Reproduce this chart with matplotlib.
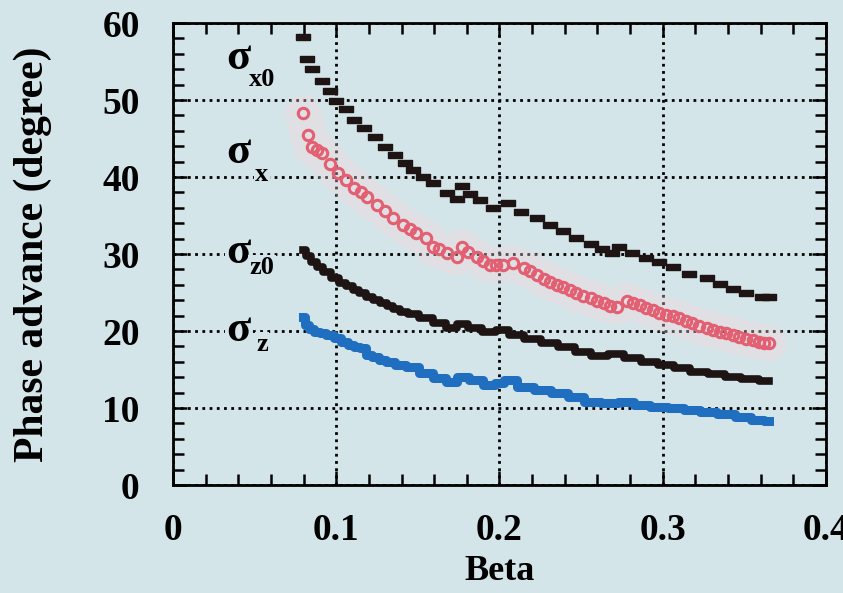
import matplotlib as mpl
mpl.use("Agg")
import matplotlib.pyplot as plt
from matplotlib.ticker import MultipleLocator

plt.rcParams['font.family'] = ['Liberation Serif', 'DejaVu Serif']
plt.rcParams['font.weight'] = 'bold'

# sigma_x0 (black rectangles)
beta_x0 = [0.0795, 0.082, 0.085, 0.091, 0.096, 0.100, 0.106, 0.111, 0.117, 0.124,
           0.130, 0.136, 0.142, 0.147, 0.153, 0.159, 0.168, 0.174, 0.177, 0.182,
           0.188, 0.196, 0.205, 0.213, 0.223, 0.231, 0.239, 0.247, 0.256, 0.263,
           0.269, 0.273, 0.281, 0.290, 0.298, 0.306, 0.316, 0.327, 0.335, 0.343,
           0.351, 0.361, 0.365]
sig_x0 = [58.2, 55.3, 54.0, 52.5, 51.2, 49.9, 48.8, 47.4, 46.4, 45.2,
          43.9, 42.9, 41.8, 40.9, 40.0, 39.2, 37.9, 37.1, 38.8, 37.8,
          37.0, 36.0, 36.6, 35.5, 34.7, 33.8, 33.0, 32.1, 31.3, 30.6,
          30.1, 30.9, 30.1, 29.5, 29.0, 28.3, 27.4, 26.9, 26.1, 25.5,
          24.9, 24.4, 24.4]

# sigma_x (pink open circles)
beta_x = [0.0795, 0.083, 0.085, 0.088, 0.091, 0.096, 0.101, 0.106, 0.111, 0.115,
          0.119, 0.125, 0.130, 0.135, 0.141, 0.145, 0.149, 0.155, 0.159, 0.163,
          0.168, 0.174, 0.177, 0.181, 0.186, 0.190, 0.194, 0.198, 0.202, 0.208,
          0.215, 0.219, 0.223, 0.227, 0.231, 0.235, 0.239, 0.243, 0.247, 0.251,
          0.256, 0.260, 0.264, 0.268, 0.272, 0.278, 0.282, 0.286, 0.290, 0.294,
          0.298, 0.302, 0.306, 0.310, 0.314, 0.318, 0.322, 0.327, 0.331, 0.335,
          0.339, 0.343, 0.347, 0.351, 0.355, 0.359, 0.362, 0.365]
sig_x = [48.3, 45.5, 43.9, 43.5, 43.1, 41.7, 40.5, 39.6, 38.6, 38.0,
         37.4, 36.4, 35.6, 34.7, 33.8, 33.2, 32.7, 32.1, 30.9, 30.6,
         30.1, 29.6, 30.9, 30.2, 29.6, 29.1, 28.6, 28.6, 28.6, 28.8,
         28.2, 27.8, 27.3, 26.8, 26.4, 26.0, 25.7, 25.3, 24.9, 24.6,
         24.3, 23.9, 23.6, 23.3, 23.1, 23.9, 23.6, 23.4, 23.0, 22.7,
         22.4, 22.1, 21.9, 21.7, 21.3, 21.0, 20.7, 20.4, 20.1, 19.9,
         19.7, 19.5, 19.2, 19.0, 18.8, 18.6, 18.5, 18.4]

# sigma_z0 (black)
beta_z0 = [0.0795, 0.083, 0.086, 0.090, 0.094, 0.100, 0.104, 0.108, 0.112, 0.116,
           0.120, 0.125, 0.129, 0.133, 0.137, 0.141, 0.147, 0.155, 0.163, 0.171,
           0.177, 0.185, 0.194, 0.202, 0.210, 0.220, 0.231, 0.241, 0.251, 0.261,
           0.272, 0.281, 0.292, 0.302, 0.312, 0.322, 0.333, 0.343, 0.353, 0.365]
sig_z0 = [30.5, 29.7, 29.0, 28.3, 27.7, 26.9, 26.3, 25.8, 25.3, 24.9,
          24.4, 24.0, 23.6, 23.2, 22.8, 22.5, 22.2, 21.7, 21.0, 20.4,
          20.9, 20.4, 19.9, 20.1, 19.5, 19.0, 18.4, 17.9, 17.3, 16.8,
          17.0, 16.5, 16.0, 15.6, 15.2, 14.7, 14.4, 14.0, 13.8, 13.5]

# sigma_z (blue)
beta_z = [0.0795, 0.082, 0.085, 0.088, 0.092, 0.096, 0.101, 0.105, 0.109, 0.113,
          0.116, 0.120, 0.124, 0.128, 0.133, 0.139, 0.147, 0.155, 0.163, 0.171,
          0.177, 0.186, 0.194, 0.200, 0.206, 0.216, 0.226, 0.237, 0.247, 0.257,
          0.267, 0.278, 0.287, 0.298, 0.308, 0.318, 0.328, 0.339, 0.349, 0.359,
          0.365]
sig_z = [21.8, 20.8, 20.3, 19.9, 19.7, 19.5, 19.1, 18.6, 18.2, 17.9,
         17.8, 16.9, 16.6, 16.2, 16.0, 15.6, 15.3, 14.5, 13.9, 13.4,
         14.0, 13.6, 13.0, 13.3, 13.6, 12.7, 12.3, 11.9, 11.4, 10.8,
         10.6, 10.8, 10.4, 10.1, 10.0, 9.7, 9.5, 9.2, 8.8, 8.4,
         8.3]

bg = '#d4e5e9'
pink = '#e35f72'
blue = '#1f6ec0'
dark = '#1e1414'

fig = plt.figure(figsize=(8.43, 5.93), dpi=100, facecolor=bg)
ax = fig.add_axes([0.2052, 0.1821, 0.7746, 0.7791])
ax.set_facecolor(bg)

rect = [(-1.2, -0.55), (1.2, -0.55), (1.2, 0.55), (-1.2, 0.55), (-1.2, -0.55)]

# faint pink halo behind sigma_x
ax.plot(beta_x, sig_x, color='#f4d6dc', lw=26, alpha=0.35, solid_capstyle='round', zorder=2)

ax.plot(beta_x0, sig_x0, ls='none', marker=rect, ms=10, color=dark, zorder=4)
ax.plot(beta_x, sig_x, ls='none', marker='o', ms=7.5, mfc='none', mec=pink, mew=2.2, zorder=4)
ax.plot(beta_z0, sig_z0, color=dark, lw=5.5, drawstyle='steps-mid', zorder=4)
ax.plot(beta_z, sig_z, color=blue, lw=6.5, drawstyle='steps-mid', zorder=4)

ax.set_xlim(0, 0.4)
ax.set_ylim(0, 60)
ax.xaxis.set_major_locator(MultipleLocator(0.1))
ax.xaxis.set_minor_locator(MultipleLocator(0.02))
ax.yaxis.set_major_locator(MultipleLocator(10))
ax.yaxis.set_minor_locator(MultipleLocator(2))
ax.set_xticks([0, 0.1, 0.2, 0.3, 0.4], ['0', '0.1', '0.2', '0.3', '0.4'])

ax.tick_params(which='both', direction='in', top=True, right=True,
               width=1.8, color='black')
ax.tick_params(which='major', length=10)
ax.tick_params(which='minor', length=8)
ax.tick_params(axis='x', which='major', labelsize=27, pad=20)
ax.tick_params(axis='y', which='major', labelsize=27, pad=24)
for lab in ax.get_xticklabels() + ax.get_yticklabels():
    lab.set_fontweight('bold')

for s in ax.spines.values():
    s.set_linewidth(2)

ax.grid(True, which='major', color='black', linestyle=(0, (1, 1.6)), linewidth=2)
ax.set_axisbelow(True)

ax.set_xlabel('Beta', fontsize=26, fontweight='bold', labelpad=5)
ax.set_ylabel('Phase advance (degree)', fontsize=30, fontweight='bold', labelpad=36)

labels = [('x0', 55.5, 52.6), ('x', 43.2, 40.3), ('z0', 30.3, 28.2), ('z', 20.1, 18.2)]
for sub, ys, yb in labels:
    ax.text(0.040, ys, 'σ', fontsize=32, fontweight='bold', ha='center', va='center',
            zorder=5, bbox=dict(facecolor=bg, edgecolor='none', pad=1))
    ax.text(0.0545, yb, sub, fontsize=19, fontweight='bold', ha='center', va='center',
            zorder=5, bbox=dict(facecolor=bg, edgecolor='none', pad=1))

fig.savefig('out.png', dpi=100, facecolor=bg)
